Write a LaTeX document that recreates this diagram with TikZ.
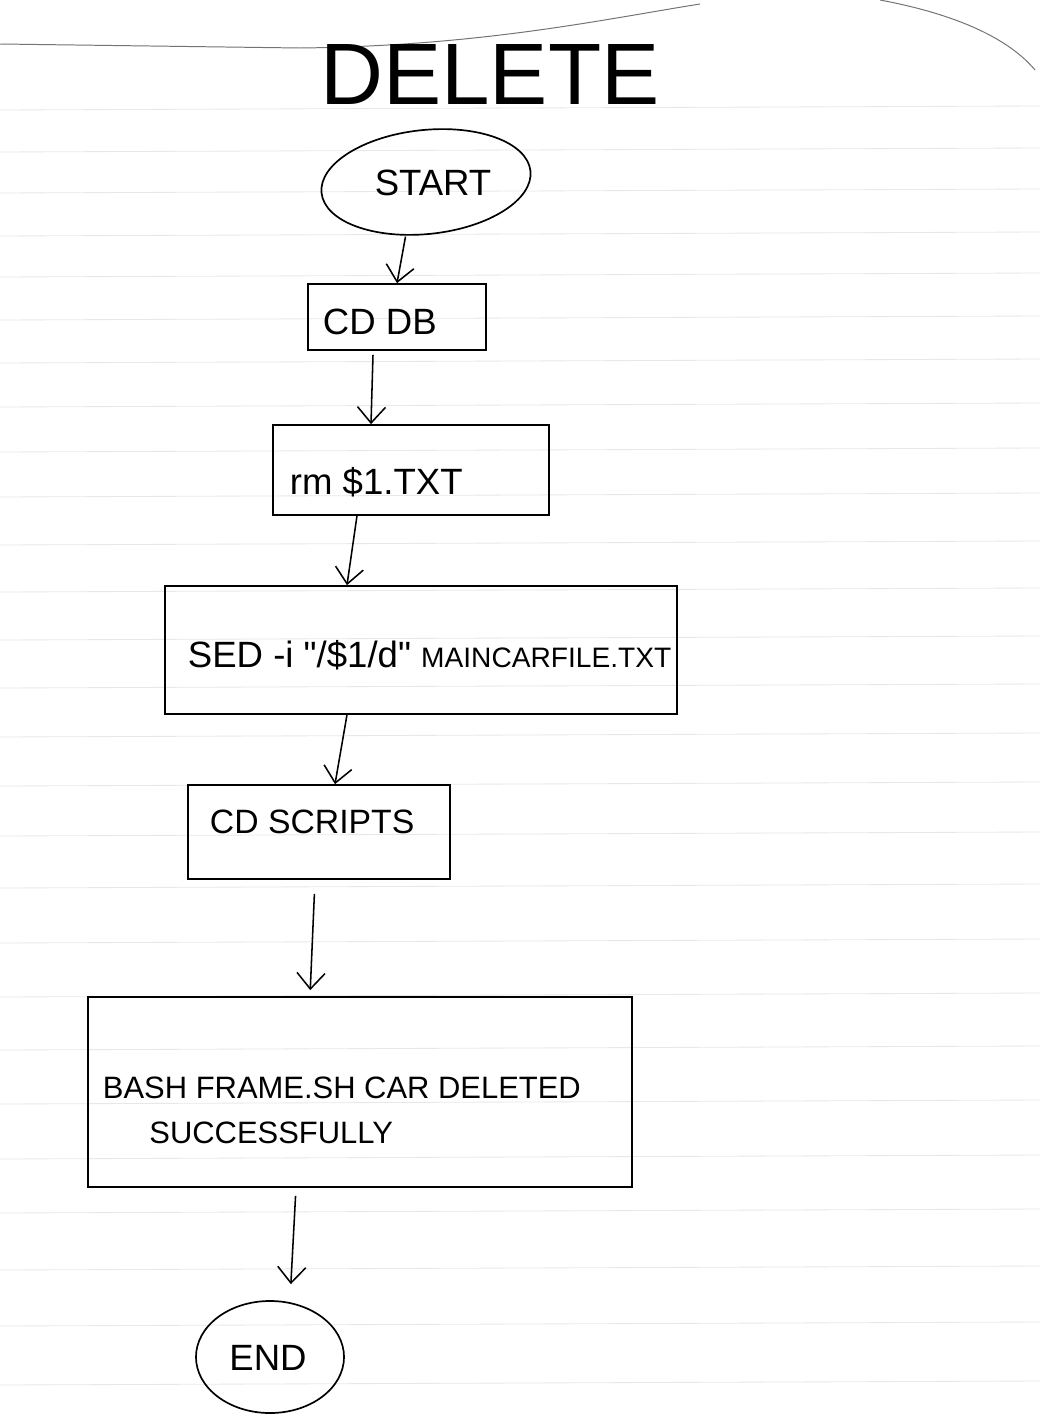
\documentclass[tikz,border=0pt]{standalone}
\usepackage{fontspec}
\setmainfont{Liberation Sans}
\usetikzlibrary{shapes.geometric,arrows.meta}
\begin{document}
\begin{tikzpicture}[x=0.025cm,y=-0.025cm,
  every node/.style={font=\fontsize{26}{30}\selectfont},
  stepbox/.style={draw,line width=1.2pt,rectangle,inner sep=0pt},
  termnode/.style={draw,line width=1.2pt,ellipse,inner sep=0pt},
  arr/.style={line width=1.1pt,-{Straight Barb[length=4mm,width=7mm]}},
  ruled/.style={black!9,line width=0.6pt}]
\useasboundingbox (0,0) rectangle (1064,1419);
\fill[white] (0,0) rectangle (1064,1419);
% ruled lines of the paper
\foreach \yy in {110,152,193,236,277,320,363,407,452,497,545,592,640,688,737,786,836,888,943,997,1050,1104,1159,1213,1270,1326,1385}
  \draw[ruled] (0,\yy) -- (1040,\yy-4);
% page top edge
\draw[black!55,line width=0.7pt] (0,44) -- (300,48) .. controls (480,46) and (600,20) .. (700,4);
\draw[black!55,line width=0.7pt] (880,0) .. controls (960,15) and (1010,40) .. (1035,70);
% title
\node (title) at (490,75) {\fontsize{62}{70}\selectfont DELETE};
% nodes
\node[termnode,minimum width=5.25cm,minimum height=2.6cm,rotate=6] (start) at (426,182) {};
\node at (433,183) {START};
\node[stepbox,minimum width=4.45cm,minimum height=1.65cm] (cddb) at (397,317) {};
\node[anchor=west] at (318,322) {CD DB};
\node[stepbox,minimum width=6.9cm,minimum height=2.25cm] (rm) at (411,470) {};
\node[anchor=west] at (285,482) {rm \$1.TXT};
\node[stepbox,minimum width=12.8cm,minimum height=3.2cm] (sed) at (421,650) {};
\node[anchor=west] at (183,655) {SED -i \textquotedbl/\$1/d\textquotedbl\ {\fontsize{20}{24}\selectfont MAINCARFILE.TXT}};
\node[stepbox,minimum width=6.55cm,minimum height=2.35cm] (cds) at (319,832) {};
\node[anchor=west] at (205,822) {\fontsize{24}{28}\selectfont CD SCRIPTS};
\node[stepbox,minimum width=13.6cm,minimum height=4.75cm] (bash) at (360,1092) {};
\node[anchor=west,align=left,font=\fontsize{22}{26}\selectfont] at (98,1110) {BASH FRAME.SH CAR DELETED\\[6pt]\hspace{1.5em}SUCCESSFULLY};
\node[termnode,minimum width=3.7cm,minimum height=2.8cm] (end) at (270,1357) {};
\node at (268,1358) {END};
% connectors
\draw[arr] ([xshift=-0.65cm,yshift=-0.05cm]start.south) -- (cddb.north);
\draw[arr] ([xshift=-0.6cm,yshift=-0.1cm]cddb.south) -- ([xshift=-1cm]rm.north);
\draw[arr] ([xshift=-1.35cm]rm.south) -- ([xshift=-1.85cm]sed.north);
\draw[arr] ([xshift=-1.85cm]sed.south) -- ([xshift=0.4cm]cds.north);
\draw[arr,shorten <=0.35cm,shorten >=0.15cm] ([xshift=-0.1cm]cds.south) -- ([xshift=-1.25cm]bash.north);
\draw[arr,shorten <=0.2cm,shorten >=0.4cm] ([xshift=-1.6cm]bash.south) -- ([xshift=0.5cm]end.north);
\end{tikzpicture}
\end{document}
